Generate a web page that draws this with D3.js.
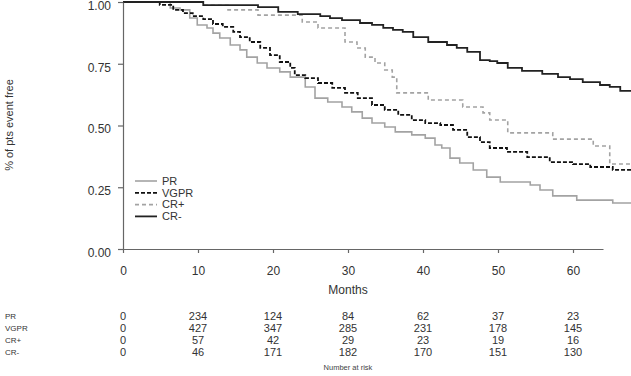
<!DOCTYPE html>
<meta charset="utf-8">
<script src="https://d3js.org/d3.v7.min.js"></script>
<style>
  body { margin: 0; background: #fff; }
  text { font-family: "Liberation Sans", Arial, sans-serif; }
</style>
<div class="canvas"></div>

<script>
    const width = 631
    const height = 376

    // Kaplan-Meier steps: [month, fraction event free]
    const PR = [[0,1],[4.4,1],[6.3,0.976],[7.6,0.968],[8.9,0.935],[9.9,0.907],[11.2,0.895],[12,0.874],
        [12.9,0.854],[14.3,0.826],[15.6,0.806],[16.5,0.777],[17.9,0.753],[19.2,0.733],[20.9,0.717],
        [22.3,0.696],[24.3,0.656],[25.6,0.611],[27.3,0.595],[29.2,0.575],[30.5,0.555],[31.9,0.53],
        [33.2,0.51],[34.9,0.494],[36.3,0.474],[38.5,0.462],[40.3,0.449],[41.6,0.421],[42.5,0.409],
        [43.6,0.368],[44.9,0.348],[46.7,0.32],[48.5,0.291],[50.3,0.271],[54.3,0.259],[55.6,0.239],
        [57.3,0.215],[60.5,0.198],[65.3,0.186]]
    const VGPR = [[0,1],[3.6,1],[4.9,0.988],[6.7,0.968],[8,0.955],[9.3,0.943],[10.7,0.931],[12,0.911],
        [13.3,0.899],[14.7,0.879],[15.6,0.858],[16.9,0.838],[18.3,0.814],[19.6,0.785],[20.9,0.757],
        [22.3,0.733],[22.9,0.704],[24.3,0.692],[26,0.672],[27.9,0.652],[29.6,0.632],[31.3,0.611],
        [33.2,0.583],[34.9,0.563],[36.7,0.543],[38.5,0.522],[40.3,0.51],[42.3,0.502],[44,0.482],
        [45.9,0.453],[47.6,0.433],[48.9,0.409],[51.2,0.393],[53.9,0.372],[56.9,0.352],[60,0.344],
        [62.3,0.332],[65.3,0.32]]
    const CRplus = [[0,1],[10.7,0.987],[14,0.968],[18,0.947],[23.9,0.919],[26,0.895],[29.6,0.838],
        [31.2,0.814],[32.3,0.777],[33.6,0.753],[34.9,0.725],[35.9,0.696],[36.5,0.632],[40.7,0.603],
        [45.3,0.575],[48,0.551],[48.9,0.522],[51.3,0.47],[57.3,0.445],[62.7,0.417],[64.9,0.344]]
    const CRminus = [[0,1],[10.7,0.987],[18,0.979],[20.7,0.96],[23.3,0.951],[26.3,0.943],[27.6,0.935],
        [29.2,0.927],[31.6,0.915],[33.2,0.907],[34.7,0.895],[36,0.887],[37.3,0.879],[38.7,0.858],
        [40.7,0.838],[43.2,0.826],[44.5,0.814],[45.9,0.798],[47.6,0.765],[48.9,0.761],[49.9,0.753],
        [51.3,0.733],[53.2,0.721],[55.9,0.709],[58,0.696],[59.6,0.688],[61.3,0.676],[63.6,0.664],
        [64.9,0.656],[66.3,0.64]]

    const xTicks = [0, 10, 20, 30, 40, 50, 60]
    const yTicks = [0, 0.25, 0.5, 0.75, 1]
    const atRiskPR = [0, 234, 124, 84, 62, 37, 23]
    const atRiskVGPR = [0, 427, 347, 285, 231, 178, 145]
    const atRiskCRplus = [0, 57, 42, 29, 23, 19, 16]
    const atRiskCRminus = [0, 46, 171, 182, 170, 151, 130]

    const series = [
        {name: "PR", data: PR, risk: atRiskPR, color: "#a3a3a3", width: 1.6, dash: null},
        {name: "VGPR", data: VGPR, risk: atRiskVGPR, color: "#111", width: 1.8, dash: "4,2"},
        {name: "CR+", data: CRplus, risk: atRiskCRplus, color: "#a3a3a3", width: 1.6, dash: "4,3"},
        {name: "CR-", data: CRminus, risk: atRiskCRminus, color: "#222", width: 1.8, dash: null}
    ]

    const xEnd = 67.8

    const svg = d3.select(".canvas")
                .append("svg")
                .attr("width", width)
                .attr("height", height)

    // axis drawn to 64 months, curves run on to the edge
    const x = d3.scaleLinear().domain([0, 64]).range([123, 603])
    const y = d3.scaleLinear().domain([0, 1]).range([249, 2])

    const line = d3.line()
                .x(d => x(d[0]))
                .y(d => y(d[1]))
                .curve(d3.curveStepAfter)

    // draw back to front so black curves sit on top
    ;[series[2], series[0], series[1], series[3]].forEach(s => {
        const pts = s.data.concat([[xEnd, s.data[s.data.length - 1][1]]])
        svg.append("path")
            .attr("d", line(pts))
            .attr("fill", "none")
            .attr("stroke", s.color)
            .attr("stroke-width", s.width)
            .attr("stroke-dasharray", s.dash)
    })

    const gXAxis = svg.append("g").attr("transform", `translate(0,${y(0)})`)
    const gYAxis = svg.append("g").attr("transform", `translate(${x(0)},0)`)

    gXAxis.call(d3.axisBottom(x).tickValues(xTicks).tickSize(4).tickSizeOuter(0).tickFormat(d3.format("d")))
    gYAxis.call(d3.axisLeft(y).tickValues(yTicks).tickSize(5).tickSizeOuter(0).tickFormat(d3.format(".2f")))

    ;[gXAxis, gYAxis].forEach(g => {
        g.selectAll("path, line").attr("stroke", "#666").attr("stroke-width", 1.2)
        g.selectAll("text").style("font-size", "12px").attr("fill", "#333")
    })
    gXAxis.selectAll("text").attr("dy", "1.55em")
    gYAxis.selectAll("text").attr("dx", "-4px").attr("dy", "0.62em")

    svg.append("text")
        .attr("transform", "translate(13,125) rotate(-90)")
        .attr("text-anchor", "middle")
        .attr("fill", "#333")
        .style("font-size", "11px")
        .text("% of pts event free")

    svg.append("text")
        .attr("x", x(30)).attr("y", 294)
        .attr("text-anchor", "middle")
        .attr("fill", "#333")
        .style("font-size", "12px")
        .text("Months")

    // legend
    const legend = svg.append("g")
    series.forEach((s, i) => {
        const ly = 181 + i * 11.8
        legend.append("line")
            .attr("x1", 135).attr("x2", 157)
            .attr("y1", ly).attr("y2", ly)
            .attr("stroke", s.color)
            .attr("stroke-width", s.width)
            .attr("stroke-dasharray", s.dash)
        legend.append("text")
            .attr("x", 162).attr("y", ly)
            .attr("dy", "0.35em")
            .attr("fill", "#333")
            .style("font-size", "11px")
            .text(s.name)
    })

    // number at risk table
    series.forEach((s, i) => {
        const ry = 316 + i * 12
        svg.append("text")
            .attr("x", 5).attr("y", ry)
            .attr("dy", "0.35em")
            .attr("fill", "#333")
            .style("font-size", "8px")
            .text(s.name)
        svg.selectAll(null)
            .data(s.risk)
            .enter()
            .append("text")
            .attr("x", (d, j) => x(xTicks[j]))
            .attr("y", ry)
            .attr("dy", "0.35em")
            .attr("text-anchor", "middle")
            .attr("fill", "#333")
            .style("font-size", "11px")
            .text(d => d)
    })

    svg.append("text")
        .attr("x", x(30)).attr("y", 370)
        .attr("text-anchor", "middle")
        .attr("fill", "#444")
        .style("font-size", "7.5px")
        .text("Number at risk")
</script>
